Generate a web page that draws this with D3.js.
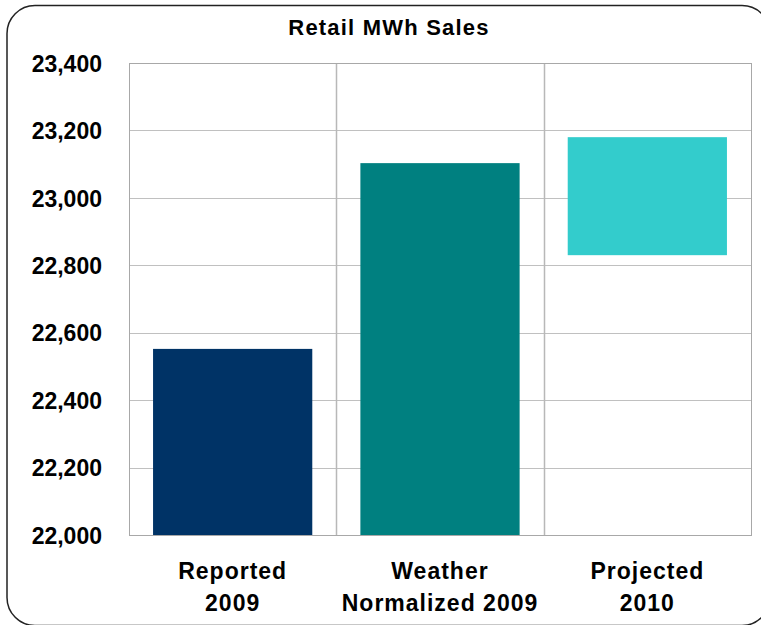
<!DOCTYPE html>
<html>
<head>
<meta charset="utf-8">
<script src="https://cdn.jsdelivr.net/npm/d3@7"></script>
<style>
  body { margin: 0; background: #fff; }
  text { font-family: "Liberation Sans", Arial, sans-serif; font-weight: bold; fill: #000; }
</style>
</head>
<body>
<div id="root"></div>
<script>
const title = "Retail MWh Sales";
const categories = ["Reported 2009", "Weather Normalized 2009", "Projected 2010"];
const categoryLines = [["Reported", "2009"], ["Weather", "Normalized 2009"], ["Projected", "2010"]];
const barLows = [22000, 22000, 22830];
const barHighs = [22552, 23103, 23180];
const barColors = ["#003366", "#008080", "#33cccc"];
const yTicks = [22000, 22200, 22400, 22600, 22800, 23000, 23200, 23400];

const width = 761;
const height = 625;
const plot = { left: 129, right: 751, top: 63, bottom: 535 };

const svg = d3
  .select("#root")
  .append("svg")
  .attr("width", width)
  .attr("height", height);

// outer rounded frame, corners just reach the window edge on the right/bottom
svg
  .append("rect")
  .attr("x", 7)
  .attr("y", 5.5)
  .attr("width", 763)
  .attr("height", 620)
  .attr("rx", 28)
  .attr("fill", "none")
  .attr("stroke", "#222")
  .attr("stroke-width", 1.5);

const xScale = d3
  .scaleBand()
  .domain(categories)
  .range([plot.left, plot.right])
  .paddingInner(0.232)
  .paddingOuter(0.116);

const yScale = d3
  .scaleLinear()
  .domain([22000, 23400])
  .range([plot.bottom, plot.top]);

// horizontal grid
svg
  .append("g")
  .selectAll("line")
  .data(yTicks)
  .enter()
  .append("line")
  .attr("x1", plot.left)
  .attr("x2", plot.right)
  .attr("y1", (d) => Math.round(yScale(d)) + 0.5)
  .attr("y2", (d) => Math.round(yScale(d)) + 0.5)
  .attr("stroke", "#c0c0c0")
  .attr("stroke-width", 1);

// vertical grid between categories
const gap = xScale.paddingInner() * xScale.step();
svg
  .append("g")
  .selectAll("line")
  .data(categories.slice(1))
  .enter()
  .append("line")
  .attr("x1", (d) => Math.round(xScale(d) - gap / 2) + 0.5)
  .attr("x2", (d) => Math.round(xScale(d) - gap / 2) + 0.5)
  .attr("y1", plot.top)
  .attr("y2", plot.bottom)
  .attr("stroke", "#b8b8b8")
  .attr("stroke-width", 1.5);

// plot border
svg
  .append("rect")
  .attr("x", plot.left + 0.5)
  .attr("y", plot.top + 0.5)
  .attr("width", plot.right - plot.left)
  .attr("height", plot.bottom - plot.top)
  .attr("fill", "none")
  .attr("stroke", "#a8a8a8")
  .attr("stroke-width", 1);

// bars (third one floats between its low and high)
svg
  .selectAll("rect.bar")
  .data(categories)
  .enter()
  .append("rect")
  .attr("class", "bar")
  .attr("x", (d) => xScale(d))
  .attr("width", xScale.bandwidth())
  .attr("y", (d, i) => yScale(barHighs[i]))
  .attr("height", (d, i) => yScale(barLows[i]) - yScale(barHighs[i]))
  .attr("fill", (d, i) => barColors[i]);

// y axis labels
const yAxis = d3.axisLeft(yScale).tickValues(yTicks).tickFormat(d3.format(",")).tickSize(0).tickPadding(27);
const yG = svg
  .append("g")
  .attr("transform", `translate(${plot.left}, 0)`)
  .call(yAxis);
yG.select(".domain").remove();
yG.attr("font-size", null).attr("font-family", null);
yG.selectAll("text")
  .style("font-size", "23px")
  .attr("dy", "0.36em");

// category labels
const catG = svg
  .selectAll("text.cat")
  .data(categories)
  .enter()
  .append("text")
  .attr("class", "cat")
  .attr("text-anchor", "middle")
  .style("font-size", "23px")
  .style("letter-spacing", "1px");
catG
  .selectAll("tspan")
  .data((d, i) => categoryLines[i].map((t) => ({ t, x: xScale(d) + xScale.bandwidth() / 2 })))
  .enter()
  .append("tspan")
  .attr("x", (d) => d.x)
  .attr("y", (d, i) => 579 + i * 32)
  .text((d) => d.t);

// title
svg
  .append("text")
  .attr("x", 389)
  .attr("y", 35)
  .attr("text-anchor", "middle")
  .style("font-size", "22px")
  .style("letter-spacing", "1.2px")
  .text(title);
</script>
</body>
</html>
